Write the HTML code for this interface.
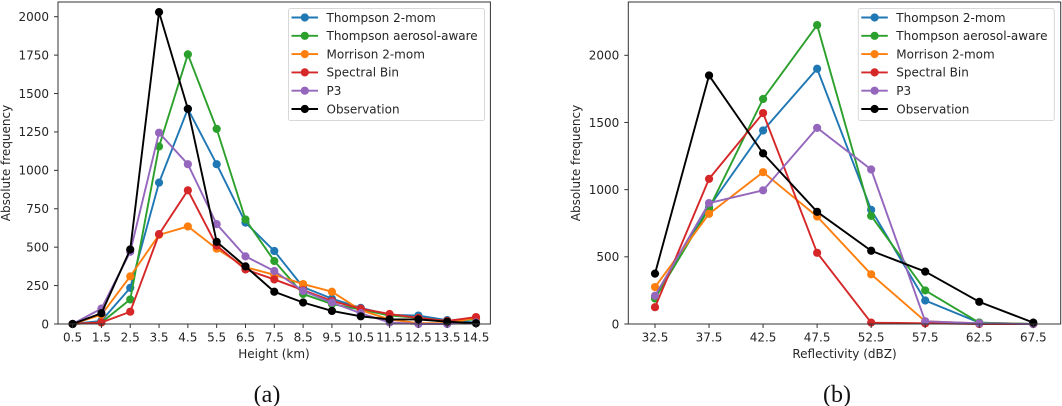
<!DOCTYPE html>
<html lang="en">
<head>
<meta charset="utf-8">
<title>Absolute frequency by height and reflectivity</title>
<style>
html,body{margin:0;padding:0;background:#fff;width:1062px;height:406px;overflow:hidden}
svg{display:block}
text{font-family:"DejaVu Sans",sans-serif;font-size:12px;fill:#262626}
.caption{font-family:"Liberation Serif",serif;font-size:24px;fill:#111}
.soft{filter:blur(0.35px)}
</style>
</head>
<body>
<svg id="figure" width="1062" height="406" viewBox="0 0 1062 406" xmlns="http://www.w3.org/2000/svg">
  <g class="soft">
    <g id="panel-a"></g>
    <g id="panel-b"></g>
    <text x="274" y="358" text-anchor="middle">Height (km)</text>
    <text x="10" y="163" text-anchor="middle" transform="rotate(-90 10 163)">Absolute frequency</text>
    <text x="844.5" y="358" text-anchor="middle">Reflectivity (dBZ)</text>
    <text x="580" y="163" text-anchor="middle" transform="rotate(-90 580 163)">Absolute frequency</text>
  </g>
  <text class="caption" x="267" y="402" text-anchor="middle">(a)</text>
  <text class="caption" x="837" y="402" text-anchor="middle">(b)</text>
</svg>
<script>
const seriesNames = ["Thompson 2-mom", "Thompson aerosol-aware", "Morrison 2-mom", "Spectral Bin", "P3", "Observation"];
const seriesColors = ["#1f77b4", "#2ca02c", "#ff7f0e", "#d62728", "#9467bd", "#000000"];

const heightCategories = [0.5, 1.5, 2.5, 3.5, 4.5, 5.5, 6.5, 7.5, 8.5, 9.5, 10.5, 11.5, 12.5, 13.5, 14.5];
const heightTicksY = [0, 250, 500, 750, 1000, 1250, 1500, 1750, 2000];
const heightThompson = [0, 20, 235, 920, 1400, 1040, 660, 475, 240, 165, 105, 60, 55, 25, 10];
const heightAerosol = [0, 10, 160, 1155, 1755, 1270, 680, 410, 195, 130, 95, 55, 40, 20, 30];
const heightMorrison = [0, 60, 310, 580, 635, 490, 370, 320, 260, 210, 90, 30, 5, 5, 40];
const heightSpectral = [0, 10, 80, 585, 870, 510, 355, 290, 220, 150, 100, 65, 40, 20, 45];
const heightP3 = [0, 100, 470, 1245, 1040, 650, 440, 345, 215, 140, 70, 10, 0, 0, 10];
const heightObservation = [0, 70, 485, 2030, 1400, 535, 375, 210, 140, 85, 50, 30, 30, 15, 5];

const reflectivityCategories = [32.5, 37.5, 42.5, 47.5, 52.5, 57.5, 62.5, 67.5];
const reflectivityTicksY = [0, 500, 1000, 1500, 2000];
const reflectivityThompson = [200, 870, 1440, 1900, 850, 175, 10, 0];
const reflectivityAerosol = [190, 860, 1675, 2225, 805, 250, 10, 0];
const reflectivityMorrison = [275, 820, 1130, 800, 370, 20, 5, 0];
const reflectivitySpectral = [125, 1080, 1570, 530, 10, 5, 0, 0];
const reflectivityP3 = [210, 900, 995, 1460, 1150, 20, 5, 0];
const reflectivityObservation = [375, 1850, 1270, 835, 545, 390, 165, 10];

const NS = "http://www.w3.org/2000/svg";

function make(tag, parent, attrs, text) {
  const el = document.createElementNS(NS, tag);
  for (const k in attrs) el.setAttribute(k, attrs[k]);
  if (text !== undefined) el.textContent = text;
  parent.appendChild(el);
  return el;
}

function drawPanel(cfg) {
  const root = document.getElementById(cfg.id);
  const n = cfg.categories.length;
  const first = cfg.categories[0];
  const last = cfg.categories[n - 1];
  const xScale = v => cfg.x0 + (v - first) / (last - first) * (cfg.x1 - cfg.x0);
  const yScale = v => cfg.yZero - v * cfg.yPerUnit;

  cfg.series.forEach((values, s) => {
    const g = make("g", root, {});
    
    
    const pts = values.map((v, i) => xScale(cfg.categories[i]).toFixed(2) + "," + yScale(v).toFixed(2)).join(" ");
    const line = make("polyline", g, {points: pts, fill: "none", stroke: seriesColors[s], "stroke-width": 1.9, "stroke-linejoin": "round"});
    
    
    values.forEach((v, i) => {
      const dot = make("circle", g, {cx: xScale(cfg.categories[i]), cy: yScale(v), r: 4.1, fill: seriesColors[s]});
      
      
    });
  });

  const frame = make("rect", root, {x: cfg.left, y: cfg.top, width: cfg.right - cfg.left, height: cfg.yZero - cfg.top, fill: "none", stroke: "#333", "stroke-width": 1});
  
  

  cfg.categories.forEach(c => {
    const x = xScale(c);
    const tick = make("line", root, {x1: x, x2: x, y1: cfg.yZero, y2: cfg.yZero + 4, stroke: "#333", "stroke-width": 1});
    
    
    const label = make("text", root, {x: x, y: 341.5, "text-anchor": "middle"}, c.toFixed(1));
    
    
  });

  cfg.ticksY.forEach(t => {
    const y = yScale(t);
    const tick = make("line", root, {x1: cfg.left - 4, x2: cfg.left, y1: y, y2: y, stroke: "#333", "stroke-width": 1});
    
    
    const label = make("text", root, {x: cfg.left - 9, y: y + 4.3, "text-anchor": "end"}, String(t));
    
    
  });

  const legend = make("g", root, {});
  
  
  const box = make("rect", legend, {x: cfg.legendX, y: 8.5, width: 196, height: 112, rx: 2, fill: "#fff", "fill-opacity": 0.85, stroke: "#d8d8d8", "stroke-width": 1});
  
  
  seriesNames.forEach((name, i) => {
    const y = 17.5 + i * 18.3;
    const entry = make("g", legend, {});
    
    
    make("line", entry, {x1: cfg.legendX + 3, x2: cfg.legendX + 29.5, y1: y, y2: y, stroke: seriesColors[i], "stroke-width": 1.9});
    make("circle", entry, {cx: cfg.legendX + 16.3, cy: y, r: 4.1, fill: seriesColors[i]});
    make("text", entry, {x: cfg.legendX + 38, y: y + 4.3}, name);
  });
}

drawPanel({
  id: "panel-a",
  categories: heightCategories,
  ticksY: heightTicksY,
  series: [heightThompson, heightAerosol, heightMorrison, heightSpectral, heightP3, heightObservation],
  left: 58, right: 490.4, top: 2, yZero: 324,
  x0: 72.6, x1: 476,
  yPerUnit: 0.15365,
  legendX: 288.5
});

drawPanel({
  id: "panel-b",
  categories: reflectivityCategories,
  ticksY: reflectivityTicksY,
  series: [reflectivityThompson, reflectivityAerosol, reflectivityMorrison, reflectivitySpectral, reflectivityP3, reflectivityObservation],
  left: 628.3, right: 1060.7, top: 2, yZero: 324,
  x0: 655, x1: 1033.3,
  yPerUnit: 0.13435,
  legendX: 858.3
});
</script>
</body>
</html>
